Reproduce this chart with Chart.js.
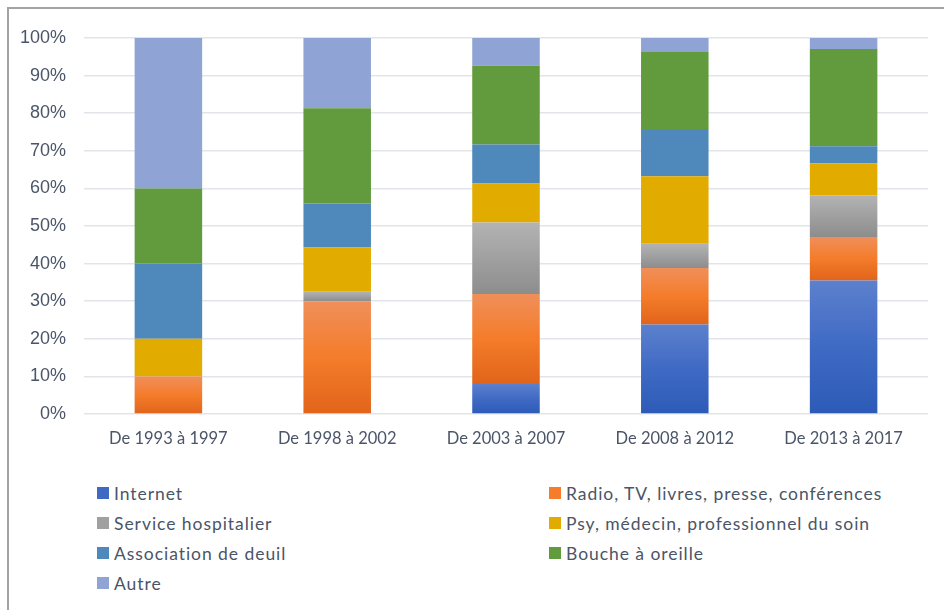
<!DOCTYPE html>
<html>
<head>
<meta charset="utf-8">
<script src="https://cdn.jsdelivr.net/npm/chart.js@4"></script>
<style>
  body { margin: 0; background: #fff; }
  #wrap { position: relative; width: 944px; height: 610px; overflow: hidden; }
  #frame { position: absolute; left: 7px; top: 7px; width: 960px; height: 620px;
    border-top: 2px solid #a3a3a3; border-left: 2px solid #a3a3a3; }
  #chartBox { position: absolute; left: 0; top: 0; width: 944px; height: 460px; }
  #legend { position: absolute; left: 97px; top: 481px; width: 820px;
    display: grid; grid-template-columns: 452px 360px; row-gap: 6px;
    font-family: Lato, sans-serif; font-size: 17.5px; letter-spacing: 0.95px; color: #4a5568; }
  .item { display: flex; align-items: center; height: 24px; }
  .box { width: 12px; height: 12px; margin-right: 5px; flex: none; }
</style>
</head>
<body>
<div id="wrap">
  <div id="frame"></div>
  <div id="chartBox"><canvas id="chart" width="944" height="460"></canvas></div>
  <div id="legend"></div>
</div>
<script>
const categories = ['De 1993 à 1997', 'De 1998 à 2002', 'De 2003 à 2007', 'De 2008 à 2012', 'De 2013 à 2017'];
const internet = [0, 0, 8, 23.8, 35.5];
const radio = [10, 30, 23.9, 15, 11.6];
const service = [0, 2.5, 19, 6.5, 11.1];
const psy = [10, 11.8, 10.4, 17.9, 8.5];
const asso = [20, 11.7, 10.4, 12.6, 4.5];
const bouche = [20, 25.3, 20.9, 20.5, 25.9];
const autre = [40, 18.7, 7.4, 3.7, 2.9];
const yTicks = [0, 10, 20, 30, 40, 50, 60, 70, 80, 90, 100];

const series = [
  { label: 'Internet', data: internet, colors: ['#5c80cd', '#3f6ac4', '#2c5bb7'] },
  { label: 'Radio, TV, livres, presse, conférences', data: radio, colors: ['#f08f5a', '#f47c2a', '#e1641a'] },
  { label: 'Service hospitalier', data: service, colors: ['#b3b3b3', '#a0a0a0', '#8d8d8d'] },
  { label: 'Psy, médecin, professionnel du soin', data: psy, colors: ['#e1ab00'] },
  { label: 'Association de deuil', data: asso, colors: ['#4f89bb'] },
  { label: 'Bouche à oreille', data: bouche, colors: ['#629a3e'] },
  { label: 'Autre', data: autre, colors: ['#8fa4d4'] }
];

const textColor = '#4a5568';

// vertical gradient for each segment, light at the top and dark at the bottom
function segmentFill(dsIndex) {
  const cols = series[dsIndex].colors;
  if (cols.length === 1) return cols[0];
  return (c) => {
    const chart = c.chart;
    if (c.type !== 'data' || !chart.chartArea || !chart.scales.y) return cols[1];
    let base = 0;
    for (let k = 0; k < dsIndex; k++) base += series[k].data[c.dataIndex];
    const val = series[dsIndex].data[c.dataIndex];
    const y0 = chart.scales.y.getPixelForValue(base + val);
    const y1 = chart.scales.y.getPixelForValue(base);
    if (y1 - y0 < 1) return cols[1];
    const g = chart.ctx.createLinearGradient(0, y0, 0, y1);
    g.addColorStop(0, cols[0]);
    g.addColorStop(0.5, cols[1]);
    g.addColorStop(1, cols[2]);
    return g;
  };
}

const datasets = series.map((s, i) => ({
  label: s.label,
  data: s.data,
  backgroundColor: segmentFill(i),
  borderWidth: 0,
  barPercentage: 0.4,
  categoryPercentage: 1.0
}));

new Chart(document.getElementById('chart'), {
  type: 'bar',
  data: { labels: categories, datasets: datasets },
  options: {
    responsive: false,
    devicePixelRatio: 1,
    animation: false,
    layout: { padding: { top: 38, right: 16, left: 0, bottom: 0 } },
    plugins: {
      legend: { display: false },
      tooltip: { enabled: false }
    },
    scales: {
      x: {
        stacked: true,
        grid: { display: false, drawTicks: false },
        border: { display: false },
        ticks: { color: textColor, padding: 15, font: { family: 'Lato', size: 16.5 } },
        afterFit: (scale) => { scale.height = 46; }
      },
      y: {
        stacked: true,
        min: 0,
        max: 100,
        afterBuildTicks: (scale) => { scale.ticks = yTicks.map(v => ({ value: v })); },
        grid: { color: '#e1e5ea', lineWidth: 1.5, drawTicks: false },
        border: { display: false },
        ticks: {
          color: textColor, padding: 18,
          font: { family: 'Liberation Sans', size: 18 },
          callback: (v) => v + '%'
        },
        afterFit: (scale) => { scale.width = 84; }
      }
    }
  }
});

// legend, two columns like the original
const legend = document.getElementById('legend');
series.forEach(s => {
  const item = document.createElement('div');
  item.className = 'item';
  const box = document.createElement('span');
  box.className = 'box';
  box.style.background = s.colors.length > 1 ? s.colors[1] : s.colors[0];
  const txt = document.createElement('span');
  txt.textContent = s.label;
  item.appendChild(box);
  item.appendChild(txt);
  legend.appendChild(item);
});
</script>
</body>
</html>
